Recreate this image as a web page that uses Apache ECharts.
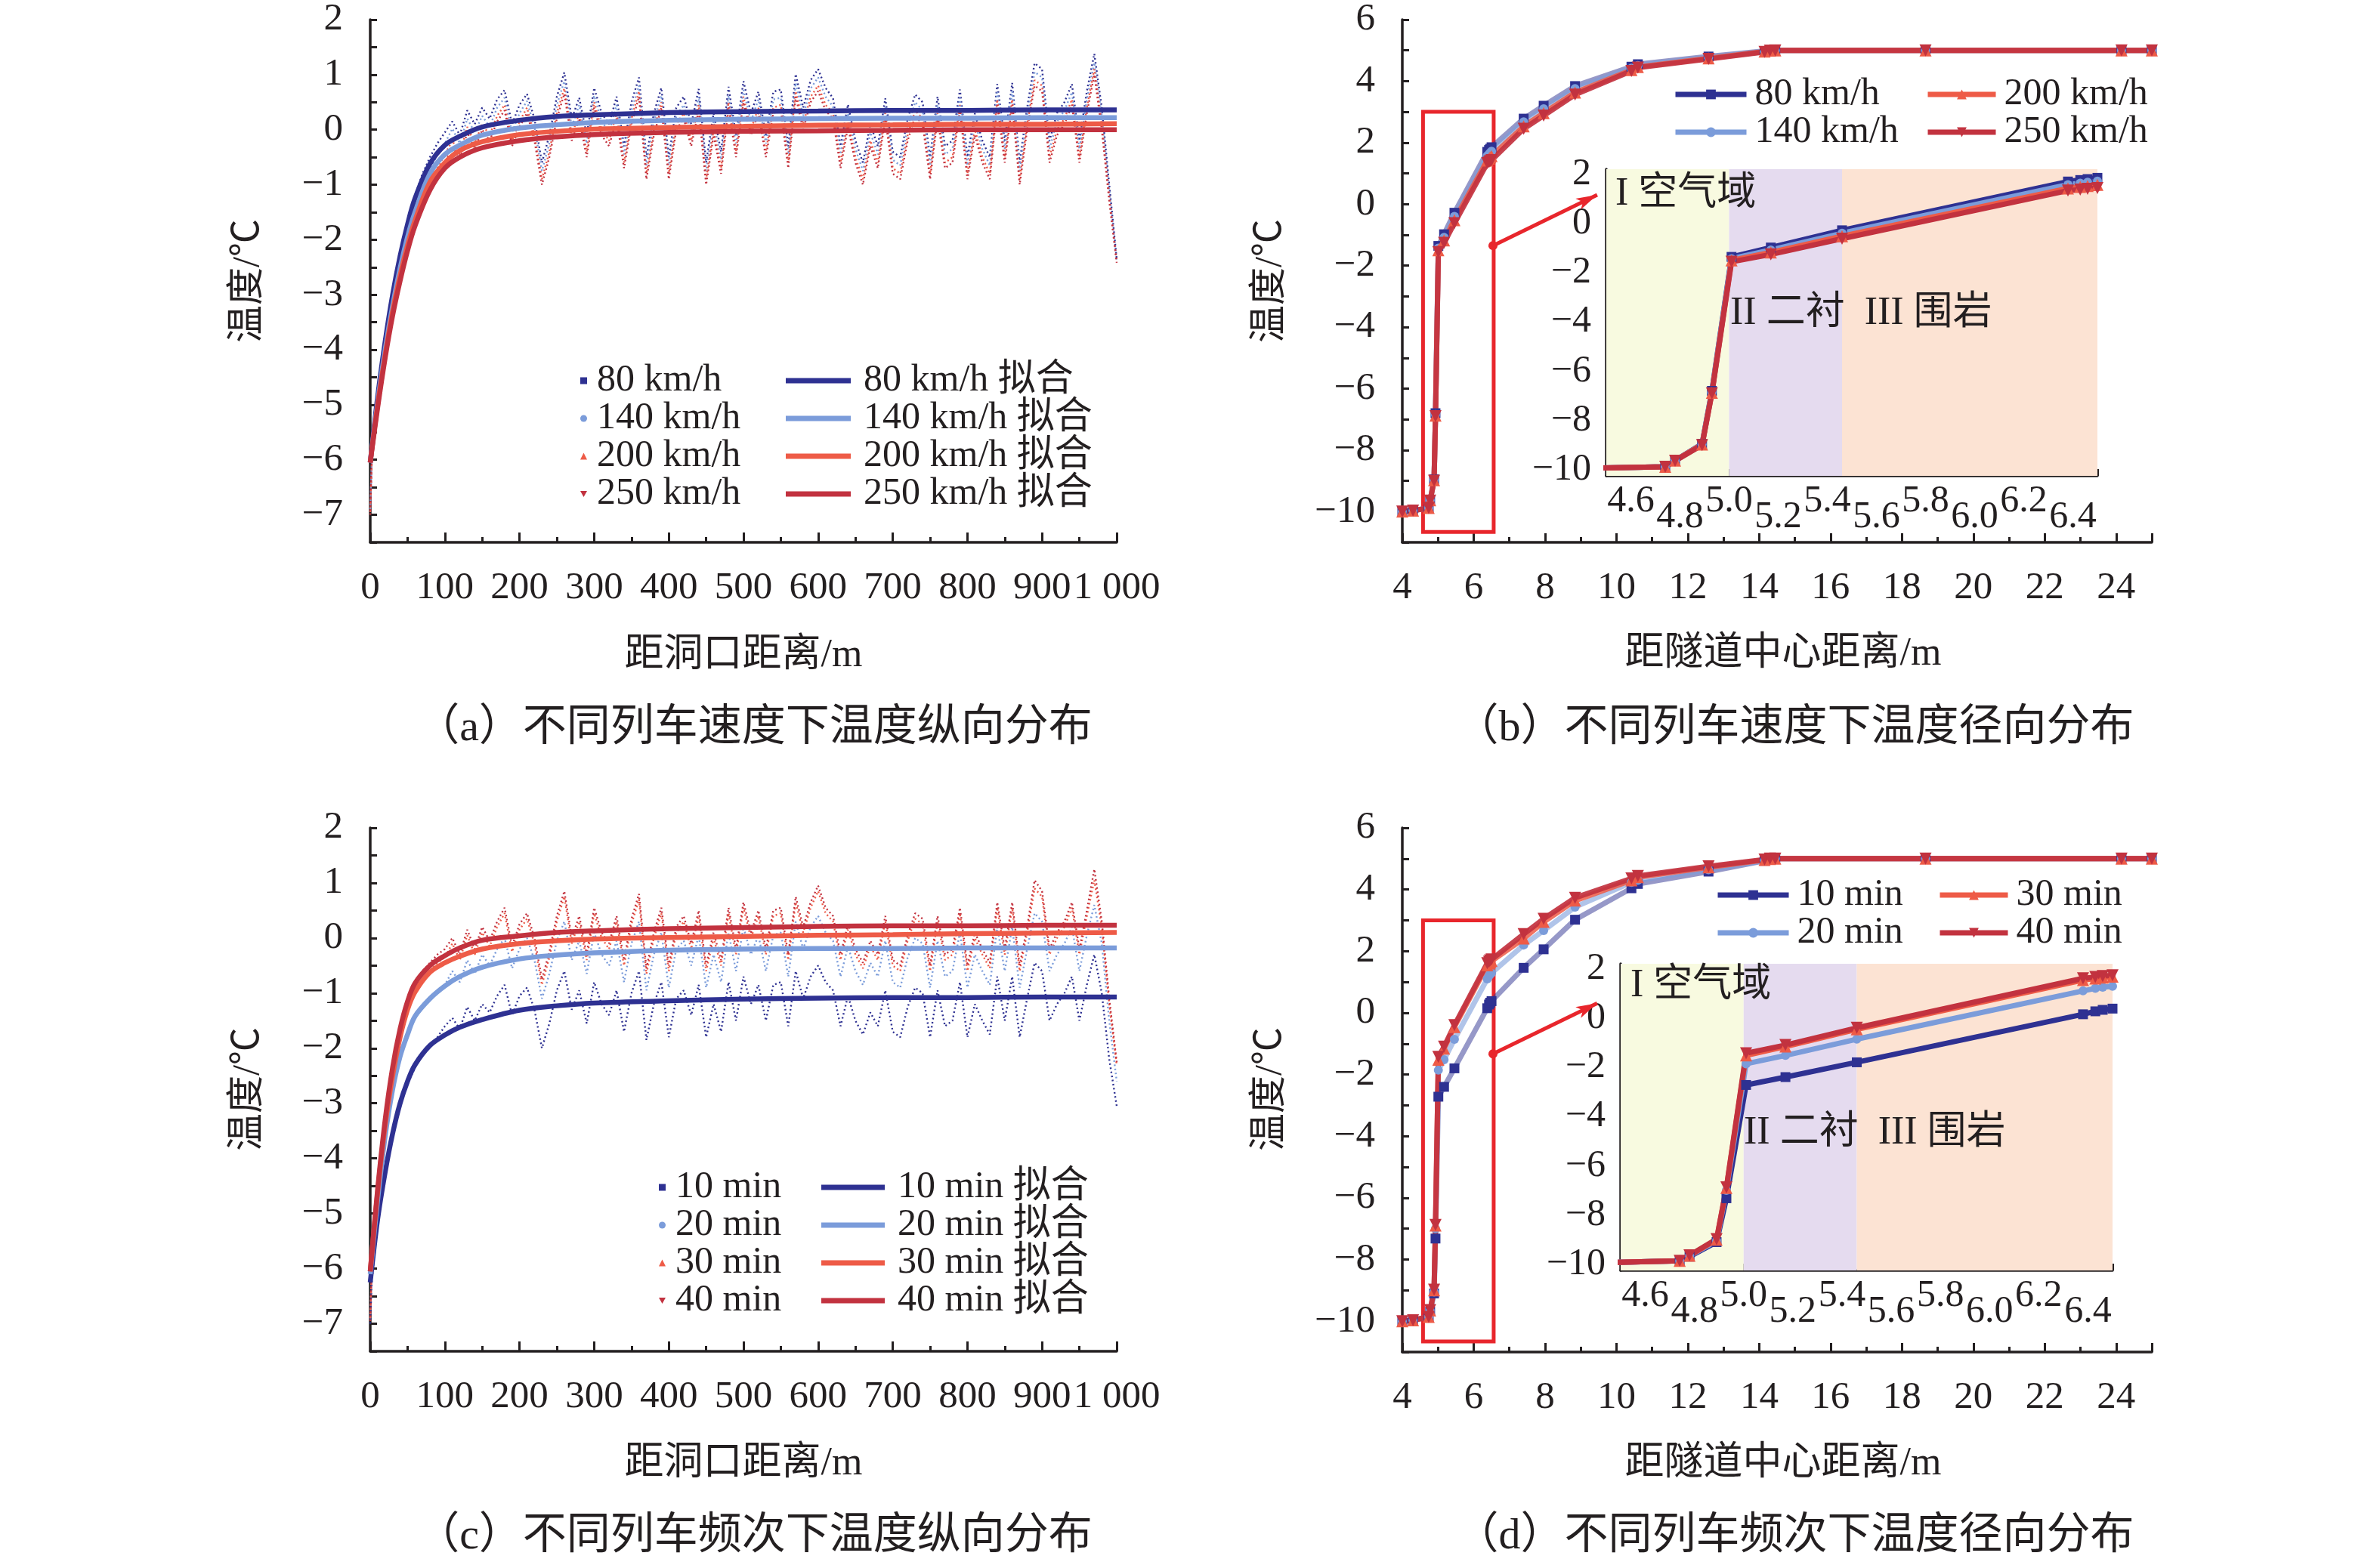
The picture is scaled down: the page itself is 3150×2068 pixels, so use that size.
<!DOCTYPE html>
<html><head><meta charset="utf-8">
<script src="https://cdn.jsdelivr.net/npm/echarts@6/dist/echarts.min.js"></script>
<style>html,body{margin:0;padding:0;background:#fff}#c{width:3150px;height:2068px}</style>
</head><body><div id="c"></div>
<script>
// ---------- longitudinal distance grid (m) ----------
const noiseX = [0,2,10,20,30,40,50,60,70,80,90,100,110,120,130,140,150,160,170,180,190,200,210,220,230,240,250,260,270,280,290,300,310,320,330,340,350,360,370,380,390,400,410,420,430,440,450,460,470,480,490,500,510,520,530,540,550,560,570,580,590,600,610,620,630,640,650,660,670,680,690,700,710,720,730,740,750,760,770,780,790,800,810,820,830,840,850,860,870,880,890,900,910,920,930,940,950,960,970,980,990,1000];
const fitX = [0,10,20,30,40,50,60,80,100,120,150,200,250,300,400,500,600,700,800,900,1000];

// (a) train speed - simulated temperature
const a80 = [-6.95,-6.05,-4.8,-3.8,-2.95,-2.25,-1.7,-1.2,-0.8,-0.5,-0.25,-0.05,
0.15,-0.1,0.35,0.1,0.4,0.2,0.55,0.72,0.1,0.45,
0.65,0.2,-0.6,-0.1,0.6,1.04,0.2,0.58,-0.1,0.76,
0.3,0.1,0.6,-0.3,0.5,0.95,-0.5,0.3,0.76,-0.5,
0.4,0.6,0.1,0.74,-0.6,0.3,-0.4,0.78,-0.1,0.88,
0.3,0.69,-0.1,0.69,0.73,-0.3,1.01,0.4,0.9,1.1,
0.76,0.57,-0.3,0.46,-0.2,-0.6,0.1,-0.3,0.57,-0.4,
-0.5,0.2,0.64,0.5,-0.5,0.6,-0.3,-0.2,0.73,-0.5,
0.3,-0.2,-0.5,0.83,-0.2,0.85,-0.6,0.4,1.21,1.1,
-0.2,0.3,0.5,0.83,-0.2,0.7,1.38,0.4,-1.0,-2.35];
const a140 = [-6.9,-6.05,-4.9,-3.95,-3.1,-2.45,-1.9,-1.45,-1.05,-0.75,-0.45,-0.25,
0.02,-0.25,0.2,-0.05,0.25,0.05,0.4,0.58,-0.05,0.3,
0.52,0.05,-0.75,-0.25,0.45,0.88,0.05,0.45,-0.25,0.62,
0.15,-0.05,0.45,-0.45,0.35,0.8,-0.65,0.15,0.62,-0.65,
0.25,0.45,-0.05,0.6,-0.75,0.15,-0.55,0.62,-0.25,0.72,
0.15,0.55,-0.25,0.55,0.58,-0.45,0.85,0.25,0.75,0.95,
0.6,0.42,-0.45,0.3,-0.35,-0.75,-0.05,-0.45,0.42,-0.55,
-0.65,0.05,0.5,0.35,-0.65,0.45,-0.45,-0.35,0.58,-0.65,
0.15,-0.35,-0.65,0.68,-0.35,0.7,-0.75,0.25,1.05,0.95,
-0.35,0.15,0.35,0.68,-0.35,0.55,1.22,0.25,-1.1,-2.38];
const a200 = [-6.95,-6.05,-5.0,-4.05,-3.25,-2.6,-2.05,-1.6,-1.25,-0.95,-0.7,-0.45,
-0.2,-0.45,0.05,-0.25,0.1,-0.1,0.25,0.45,-0.2,0.15,
0.4,-0.1,-0.9,-0.4,0.3,0.75,-0.1,0.3,-0.4,0.5,
0.0,-0.2,0.3,-0.6,0.2,0.7,-0.8,0.0,0.5,-0.8,
0.1,0.3,-0.2,0.45,-0.9,0.0,-0.7,0.5,-0.4,0.6,
0.0,0.4,-0.4,0.4,0.45,-0.6,0.7,0.1,0.6,0.8,
0.45,0.3,-0.6,0.15,-0.5,-0.9,-0.2,-0.6,0.3,-0.7,
-0.8,-0.1,0.35,0.2,-0.8,0.3,-0.6,-0.5,0.45,-0.8,
0.0,-0.5,-0.8,0.55,-0.5,0.55,-0.9,0.1,0.9,0.8,
-0.5,0.0,0.2,0.55,-0.5,0.4,1.1,0.1,-1.2,-2.4];
const a250 = [-7.0,-6.05,-5.05,-4.1,-3.35,-2.7,-2.15,-1.75,-1.4,-1.1,-0.85,-0.6,
-0.3,-0.55,-0.05,-0.35,0.0,-0.2,0.15,0.35,-0.3,0.05,
0.3,-0.2,-1.0,-0.5,0.2,0.65,-0.2,0.2,-0.5,0.4,
-0.1,-0.3,0.2,-0.7,0.1,0.6,-0.9,-0.1,0.4,-0.9,
0.0,0.2,-0.3,0.35,-1.0,-0.1,-0.8,0.4,-0.5,0.5,
-0.1,0.3,-0.5,0.3,0.35,-0.7,0.6,0.0,0.5,0.7,
0.35,0.2,-0.7,0.05,-0.6,-1.0,-0.3,-0.7,0.2,-0.8,
-0.9,-0.2,0.25,0.1,-0.9,0.2,-0.7,-0.6,0.35,-0.9,
-0.1,-0.6,-0.9,0.45,-0.6,0.45,-1.0,0.0,0.8,0.7,
-0.6,-0.1,0.1,0.45,-0.6,0.3,1.0,0.0,-1.3,-2.42];
const fitA80  = [-6.05,-4.85,-3.85,-3.0,-2.3,-1.72,-1.25,-0.62,-0.28,-0.12,0.05,0.17,0.24,0.27,0.31,0.33,0.34,0.35,0.35,0.36,0.36];
const fitA140 = [-6.05,-4.95,-4.0,-3.2,-2.52,-1.95,-1.5,-0.8,-0.45,-0.28,-0.1,0.03,0.09,0.13,0.17,0.19,0.2,0.21,0.21,0.22,0.22];
const fitA200 = [-6.05,-5.0,-4.1,-3.3,-2.65,-2.1,-1.65,-0.95,-0.6,-0.38,-0.22,-0.09,-0.03,0.01,0.04,0.06,0.08,0.09,0.1,0.1,0.11];
const fitA250 = [-6.05,-5.05,-4.15,-3.38,-2.75,-2.2,-1.75,-1.1,-0.7,-0.5,-0.33,-0.2,-0.13,-0.09,-0.05,-0.03,-0.02,-0.01,0,0,0];

// (c) train frequency - simulated temperature
const c10 = [-7.0,-6.25,-5.15,-4.3,-3.6,-3.05,-2.65,-2.35,-2.1,-1.95,-1.8,-1.6,
-1.45,-1.65,-1.25,-1.5,-1.2,-1.35,-1.05,-0.85,-1.4,-1.05,
-0.9,-1.3,-2.0,-1.55,-0.95,-0.6,-1.3,-0.95,-1.55,-0.8,
-1.2,-1.4,-0.95,-1.7,-1.0,-0.6,-1.85,-1.2,-0.8,-1.8,
-1.1,-0.95,-1.4,-0.85,-1.8,-1.2,-1.7,-0.8,-1.5,-0.7,
-1.2,-0.85,-1.5,-0.85,-0.8,-1.6,-0.6,-1.1,-0.7,-0.5,
-0.8,-0.95,-1.6,-1.05,-1.5,-1.75,-1.35,-1.6,-0.95,-1.7,
-1.8,-1.25,-0.9,-1.0,-1.8,-0.95,-1.6,-1.5,-0.8,-1.8,
-1.2,-1.5,-1.75,-0.7,-1.5,-0.7,-1.8,-1.1,-0.45,-0.6,
-1.5,-1.2,-1.0,-0.7,-1.5,-0.85,-0.3,-1.0,-2.2,-3.05];
const c20 = [-6.9,-6.1,-4.8,-3.65,-2.75,-2.15,-1.75,-1.42,-1.25,-1.1,-0.98,-0.85,
-0.6,-0.8,-0.4,-0.65,-0.3,-0.5,-0.2,0.0,-0.55,-0.2,
0.0,-0.4,-1.1,-0.65,-0.05,0.3,-0.4,-0.05,-0.65,0.1,
-0.3,-0.5,-0.05,-0.8,-0.1,0.3,-0.95,-0.3,0.1,-0.9,
-0.2,-0.05,-0.5,0.05,-0.9,-0.3,-0.8,0.1,-0.6,0.2,
-0.3,0.05,-0.6,0.05,0.1,-0.7,0.3,-0.2,0.2,0.4,
0.1,-0.05,-0.7,-0.15,-0.6,-0.85,-0.45,-0.7,-0.05,-0.8,
-0.9,-0.35,0.0,-0.1,-0.9,-0.05,-0.7,-0.6,0.1,-0.9,
-0.3,-0.6,-0.85,0.2,-0.6,0.2,-0.9,-0.2,0.45,0.3,
-0.6,-0.3,-0.1,0.2,-0.6,0.05,0.6,-0.1,-1.5,-2.6];
const c30 = [-6.9,-6.05,-4.6,-3.4,-2.5,-1.8,-1.3,-1.0,-0.8,-0.6,-0.45,-0.35,
-0.1,-0.4,0.05,-0.3,0.1,-0.15,0.2,0.45,-0.25,0.15,
0.35,-0.1,-0.85,-0.35,0.3,0.75,-0.1,0.3,-0.4,0.45,
0.0,-0.2,0.3,-0.5,0.25,0.7,-0.65,0.0,0.45,-0.6,
0.1,0.3,-0.2,0.4,-0.6,0.0,-0.5,0.45,-0.3,0.55,
0.0,0.4,-0.3,0.4,0.45,-0.4,0.65,0.1,0.55,0.85,
0.45,0.3,-0.4,0.15,-0.3,-0.55,-0.15,-0.4,0.3,-0.5,
-0.6,-0.05,0.35,0.25,-0.6,0.3,-0.4,-0.3,0.45,-0.6,
0.0,-0.3,-0.55,0.55,-0.3,0.55,-0.6,0.1,0.9,0.75,
-0.3,0.0,0.2,0.55,-0.3,0.4,1.05,0.2,-1.2,-2.3];
const c40 = [-6.95,-6.05,-4.55,-3.3,-2.35,-1.65,-1.15,-0.85,-0.6,-0.45,-0.3,-0.2,
0.0,-0.3,0.15,-0.2,0.2,-0.05,0.3,0.55,-0.15,0.25,
0.45,0.0,-0.75,-0.25,0.4,0.85,0.0,0.4,-0.3,0.55,
0.1,-0.1,0.4,-0.4,0.35,0.8,-0.55,0.1,0.55,-0.5,
0.2,0.4,-0.1,0.5,-0.5,0.1,-0.4,0.55,-0.2,0.65,
0.1,0.5,-0.2,0.5,0.55,-0.3,0.75,0.2,0.65,0.95,
0.55,0.4,-0.3,0.25,-0.2,-0.45,-0.05,-0.3,0.4,-0.4,
-0.5,0.05,0.45,0.35,-0.5,0.4,-0.3,-0.2,0.55,-0.5,
0.1,-0.2,-0.45,0.65,-0.2,0.65,-0.5,0.2,1.05,0.85,
-0.2,0.1,0.3,0.65,-0.2,0.5,1.25,0.3,-1.1,-2.25];
const fitC10 = [-6.25,-5.1,-4.25,-3.55,-3.0,-2.6,-2.3,-1.95,-1.76,-1.62,-1.48,-1.31,-1.23,-1.18,-1.14,-1.11,-1.09,-1.08,-1.08,-1.07,-1.07];
const fitC20 = [-6.1,-4.75,-3.6,-2.75,-2.15,-1.75,-1.42,-1.1,-0.87,-0.7,-0.53,-0.38,-0.31,-0.27,-0.22,-0.2,-0.19,-0.19,-0.18,-0.18,-0.18];
const fitC30 = [-6.05,-4.6,-3.4,-2.5,-1.8,-1.3,-0.98,-0.62,-0.45,-0.33,-0.2,-0.1,-0.05,-0.02,0.01,0.03,0.05,0.06,0.08,0.09,0.1];
const fitC40 = [-6.05,-4.55,-3.3,-2.35,-1.65,-1.15,-0.82,-0.5,-0.32,-0.18,-0.04,0.04,0.1,0.13,0.17,0.19,0.21,0.22,0.22,0.23,0.23];

// ---------- radial distance from tunnel centre (m) ----------
const radX = [4.0,4.3,4.74,4.78,4.89,4.93,5.01,5.17,5.46,6.38,6.43,6.46,6.5,7.4,7.96,8.84,10.42,10.6,12.58,14.15,14.3,14.45,18.66,24.15,25.0];
const b80  = [-10.0,-9.97,-9.88,-9.63,-8.95,-6.8,-1.36,-0.98,-0.28,1.70,1.76,1.80,1.85,2.78,3.2,3.84,4.47,4.55,4.80,4.98,5.0,5.0,5.0,5.0,5.0];
const b140 = [-10.0,-9.97,-9.88,-9.63,-8.97,-6.85,-1.43,-1.08,-0.4,1.57,1.63,1.67,1.72,2.68,3.1,3.76,4.42,4.51,4.77,4.97,4.99,5.0,5.0,5.0,5.0];
const b200 = [-10.0,-9.97,-9.88,-9.63,-8.98,-6.88,-1.5,-1.18,-0.52,1.42,1.48,1.52,1.56,2.53,2.96,3.63,4.36,4.46,4.74,4.96,4.99,5.0,5.0,5.0,5.0];
const b250 = [-10.0,-9.97,-9.88,-9.64,-9.0,-6.9,-1.56,-1.26,-0.62,1.33,1.37,1.4,1.43,2.45,2.88,3.56,4.33,4.44,4.72,4.95,4.99,5.0,5.0,5.0,5.0];
const d10 = [-10.0,-9.97,-9.86,-9.69,-9.1,-7.32,-2.72,-2.4,-1.8,0.15,0.27,0.33,0.38,1.46,2.06,3.02,4.04,4.18,4.58,4.93,4.97,5.0,5.0,5.0,5.0];
const d20 = [-10.0,-9.97,-9.86,-9.66,-9.05,-7.0,-1.86,-1.52,-0.86,1.1,1.2,1.25,1.29,2.2,2.67,3.43,4.23,4.3,4.64,4.94,4.98,5.0,5.0,5.0,5.0];
const d30 = [-10.0,-9.97,-9.86,-9.65,-9.0,-6.9,-1.52,-1.16,-0.46,1.54,1.6,1.64,1.68,2.41,2.95,3.64,4.3,4.4,4.72,4.96,4.99,5.0,5.0,5.0,5.0];
const d40 = [-10.0,-9.97,-9.86,-9.64,-8.98,-6.88,-1.43,-1.1,-0.4,1.61,1.66,1.7,1.73,2.55,3.05,3.73,4.36,4.44,4.75,4.97,5.0,5.0,5.0,5.0,5.0];

// zone boundaries of the inset (air / lining / rock)
const zoneEdges = [4.5, 5.0, 5.46, 6.5];
const zoneNames = ['I 空气域', 'II 二衬  III 围岩'];

const insetLabelsHigh = [4.6, 5.0, 5.4, 5.8, 6.2];
const insetLabelsLow  = [4.8, 5.2, 5.6, 6.0, 6.4];
const insetXTicks = [4.5,4.6,4.7,4.8,4.9,5.0,5.1,5.2,5.3,5.4,5.5,5.6,5.7,5.8,5.9,6.0,6.1,6.2,6.3,6.4,6.5];
const insetYLabels = [-10,-8,-6,-4,-2,0,2];
const insetYTicks = [-10,-9,-8,-7,-6,-5,-4,-3,-2,-1,0,1,2];

const labelText = {
  a80:'80 km/h', a140:'140 km/h', a200:'200 km/h', a250:'250 km/h',
  fa80:'80 km/h 拟合', fa140:'140 km/h 拟合', fa200:'200 km/h 拟合', fa250:'250 km/h 拟合',
  c10:'10 min', c20:'20 min', c30:'30 min', c40:'40 min',
  fc10:'10 min 拟合', fc20:'20 min 拟合', fc30:'30 min 拟合', fc40:'40 min 拟合',
  b80:'80 km/h', b140:'140 km/h', b200:'200 km/h', b250:'250 km/h',
  d10:'10 min', d20:'20 min', d30:'30 min', d40:'40 min'
};

// ---------- styling ----------
const FF = "'Liberation Serif','Noto Sans CJK SC',serif";
const INK = '#231F20';
const COLS = ['#2E3192', '#7B9CDA', '#EE5B47', '#C2323F'];
const INVTRI = 'path://M0,0L10,0L5,9Z';
const SYMS = ['rect', 'circle', 'triangle', INVTRI];
const SYMSZ = [13, 12, 16, 16];
const fmt = v => (v < 0 ? '\u2212' + Math.abs(v) : String(v));
const zip = (xs, ys) => xs.map((x, i) => [x, ys[i]]);

const chart = echarts.init(document.getElementById('c'), null, {renderer: 'canvas'});

const grids = [
  {left: 490, top: 26, width: 988, height: 692},      // a
  {left: 1856, top: 26, width: 992, height: 692},     // b
  {left: 490, top: 1096, width: 988, height: 693},    // c
  {left: 1856, top: 1096, width: 992, height: 694},   // d
  {left: 2126, top: 224, width: 650, height: 406},    // b inset
  {left: 2145, top: 1276, width: 651, height: 406}    // d inset
];

const axLine = {show: true, onZero: false, lineStyle: {color: INK, width: 3.5}};
const noLine = {show: false, onZero: false};
const axTick = (len) => ({show: true, inside: true, length: len, lineStyle: {color: INK, width: 3}});
const labStyle = (size, margin, formatter) => ({color: INK, fontFamily: FF, fontSize: size, margin, formatter});

function longX(gi) {
  return {type: 'value', gridIndex: gi, min: 0, max: 1000, interval: 100,
    axisLine: axLine, axisTick: axTick(13), minorTick: {show: true, splitNumber: 2, length: 7, lineStyle: {color: INK, width: 3}},
    splitLine: {show: false},
    axisLabel: labStyle(51, 35, v => (v === 1000 ? '1 000' : String(v)))};
}
function longY(gi) {
  return {type: 'value', gridIndex: gi, min: -7.5, max: 2, interval: 0.5,
    axisLine: axLine, axisTick: axTick(9), splitLine: {show: false},
    axisLabel: labStyle(51, 36, v => (Math.abs(v - Math.round(v)) < 1e-6 ? fmt(Math.round(v)) : ''))};
}
function radXAxis(gi) {
  return {type: 'value', gridIndex: gi, min: 4, max: 25, interval: 2,
    axisLine: axLine, axisTick: axTick(12), minorTick: {show: true, splitNumber: 2, length: 7, lineStyle: {color: INK, width: 3}},
    splitLine: {show: false}, axisLabel: labStyle(51, 35, v => (v <= 24 ? String(v) : ''))};
}
function radYAxis(gi) {
  return {type: 'value', gridIndex: gi, min: -11, max: 6, interval: 1,
    axisLine: axLine, axisTick: axTick(9), splitLine: {show: false},
    axisLabel: labStyle(51, 36, v => (v % 2 === 0 ? fmt(v) : ''))};
}
function insetX(gi, labels, margin, main) {
  return {type: 'value', gridIndex: gi, min: 4.5, max: 6.5, position: 'bottom',
    axisLine: main ? axLine : noLine,
    axisTick: main ? {show: true, inside: true, length: 9, lineStyle: {color: INK, width: 3}, customValues: insetXTicks} : {show: false},
    splitLine: {show: false},
    axisLabel: Object.assign(labStyle(50, margin, v => v.toFixed(1)), {customValues: labels})};
}
function insetY(gi) {
  return {type: 'value', gridIndex: gi, min: -10.25, max: 2.2,
    axisLine: axLine,
    axisTick: {show: true, inside: true, length: 9, lineStyle: {color: INK, width: 3}, customValues: insetYTicks},
    splitLine: {show: false},
    axisLabel: Object.assign(labStyle(50, 20, v => fmt(v)), {customValues: insetYLabels})};
}

const xAxis = [longX(0), radXAxis(1), longX(2), radXAxis(3),
  insetX(4, insetLabelsHigh, 9, true), insetX(4, insetLabelsLow, 30, false),
  insetX(5, insetLabelsHigh, 9, true), insetX(5, insetLabelsLow, 30, false)];
const yAxis = [longY(0), radYAxis(1), longY(2), radYAxis(3), insetY(4), insetY(5)];

const series = [];
function noise(name, ys, ci, gi) {
  series.push({name, type: 'line', xAxisIndex: gi, yAxisIndex: gi, data: zip(noiseX, ys),
    showSymbol: false, symbol: 'none', z: 2, silent: true,
    lineStyle: {color: COLS[ci], width: 2.4, type: [2, 3.5]}, itemStyle: {color: COLS[ci]}});
}
function fit(name, ys, ci, gi) {
  series.push({name, type: 'line', xAxisIndex: gi, yAxisIndex: gi, data: zip(fitX, ys),
    smooth: 0.35, showSymbol: false, symbol: 'none', z: 4, silent: true,
    lineStyle: {color: COLS[ci], width: 6.5}, itemStyle: {color: COLS[ci]}});
}
[['a80', a80], ['a140', a140], ['a200', a200], ['a250', a250]].forEach((s, i) => noise(s[0], s[1], i, 0));
[['fa80', fitA80], ['fa140', fitA140], ['fa200', fitA200], ['fa250', fitA250]].forEach((s, i) => fit(s[0], s[1], i, 0));
[['c10', c10], ['c20', c20], ['c30', c30], ['c40', c40]].forEach((s, i) => noise(s[0], s[1], i, 2));
[['fc10', fitC10], ['fc20', fitC20], ['fc30', fitC30], ['fc40', fitC40]].forEach((s, i) => fit(s[0], s[1], i, 2));

const mainOpacity = [0.5, 0.6, 0.85, 0.92];
function radial(name, ys, ci, xi, yi, inset) {
  series.push({name, type: 'line', xAxisIndex: xi, yAxisIndex: yi, data: zip(radX, ys),
    symbol: SYMS[ci], symbolSize: SYMSZ[ci], showSymbol: true, z: inset ? 12 : 4, silent: true,
    lineStyle: {color: COLS[ci], width: 7, opacity: inset ? 1 : mainOpacity[ci]},
    itemStyle: {color: COLS[ci]}});
}
const bSets = [['b80', b80], ['b140', b140], ['b200', b200], ['b250', b250]];
const dSets = [['d10', d10], ['d20', d20], ['d30', d30], ['d40', d40]];
bSets.forEach((s, i) => radial('m' + s[0], s[1], i, 1, 1, false));
dSets.forEach((s, i) => radial('m' + s[0], s[1], i, 3, 3, false));
bSets.forEach((s, i) => radial(s[0], s[1], i, 4, 4, true));
dSets.forEach((s, i) => radial(s[0], s[1], i, 6, 5, true));

// zone backgrounds of insets
const zoneColors = ['#F8FAE0', '#E5DBEF', '#FCE3D3'];
function zones(xi, yi) {
  series.push({type: 'line', xAxisIndex: xi, yAxisIndex: yi, data: [], z: 10, silent: true,
    markArea: {silent: true, label: {show: false},
      data: zoneColors.map((c, k) => [{xAxis: zoneEdges[k], itemStyle: {color: c, opacity: 1}}, {xAxis: zoneEdges[k + 1]}])}});
}
zones(4, 4); zones(6, 5);

// zoom box + arrow on main radial plots
function zoomMark(xi, yi, startY, tipY) {
  series.push({type: 'line', xAxisIndex: xi, yAxisIndex: yi, data: [], z: 8, silent: true,
    markArea: {silent: true, label: {show: false},
      itemStyle: {color: 'rgba(0,0,0,0)', borderColor: '#E8262C', borderWidth: 5},
      data: [[{coord: [4.58, 3.0]}, {coord: [6.56, -10.66]}]]},
    markLine: {silent: true, symbol: ['circle', 'arrow'], symbolSize: [12, 28], label: {show: false},
      lineStyle: {color: '#E8262C', width: 5, type: 'solid'},
      data: [[{coord: [6.54, startY]}, {coord: [9.46, tipY]}]]}});
}
zoomMark(1, 1, -1.35, 0.3);
zoomMark(3, 3, -1.33, 0.31);

const legText = {color: INK, fontFamily: FF, fontSize: 50, lineHeight: 47};
function legend(names, left, top, iw, ih, icons, pad, lineW) {
  const l = {orient: 'vertical', left, top, itemWidth: iw, itemHeight: ih, itemGap: 0, padding: 0,
    selectedMode: false, formatter: n => labelText[n],
    textStyle: Object.assign({padding: [0, 0, 0, pad]}, legText),
    data: names.map((n, i) => (icons ? {name: n, icon: icons[i]} : {name: n}))};
  if (lineW) l.lineStyle = {width: lineW};
  return l;
}
const markerIcons = ['rect', 'circle', 'triangle', INVTRI];
const lineIcons = ['rect', 'rect', 'rect', 'rect'];
const legends = [
  legend(['a80', 'a140', 'a200', 'a250'], 768, 479, 9, 9, markerIcons, 8),
  legend(['fa80', 'fa140', 'fa200', 'fa250'], 1040, 479, 86, 7, lineIcons, 12),
  legend(['c10', 'c20', 'c30', 'c40'], 872, 1547, 9, 9, markerIcons, 8),
  legend(['fc10', 'fc20', 'fc30', 'fc40'], 1087, 1547, 84, 7, lineIcons, 12),
  legend(['b80', 'b140'], 2214, 100, 94, 16, null, 6, 7),
  legend(['b200', 'b250'], 2548, 100, 90, 16, null, 6, 7),
  legend(['d10', 'd20'], 2270, 1160, 94, 16, null, 6, 7),
  legend(['d30', 'd40'], 2564, 1160, 90, 16, null, 6, 7)
];

function txt(text, x, y, size, opts) {
  return Object.assign({type: 'text', x, y, z: 100, silent: true,
    style: {text, fill: INK, font: size + 'px ' + FF, align: 'center', verticalAlign: 'middle'}}, opts || {});
}
const rot = {rotation: Math.PI / 2};
const graphics = [
  txt('温度/℃', 329, 372, 50, rot), txt('温度/℃', 1682, 372, 50, rot),
  txt('温度/℃', 329, 1442, 50, rot), txt('温度/℃', 1682, 1442, 50, rot),
  txt('距洞口距离/m', 984, 868, 52), txt('距隧道中心距离/m', 2360, 866, 52),
  txt('距洞口距离/m', 984, 1938, 52), txt('距隧道中心距离/m', 2360, 1938, 52),
  txt('（a）不同列车速度下温度纵向分布', 998, 965, 58), txt('（b）不同列车速度下温度径向分布', 2375, 965, 58),
  txt('（c）不同列车频次下温度纵向分布', 998, 2035, 58), txt('（d）不同列车频次下温度径向分布', 2375, 2035, 58)
];
[[2138, 257, 2290, 415], [2158, 1305, 2308, 1500]].forEach(p => {
  const a = txt(zoneNames[0], p[0], p[1], 52); a.style.align = 'left';
  const b = txt(zoneNames[1], p[2], p[3], 52); b.style.align = 'left';
  graphics.push(a, b);
});

chart.setOption({
  backgroundColor: '#ffffff',
  animation: false,
  textStyle: {fontFamily: FF},
  grid: grids,
  xAxis, yAxis,
  legend: legends,
  series,
  graphic: graphics
});
</script></body></html>
